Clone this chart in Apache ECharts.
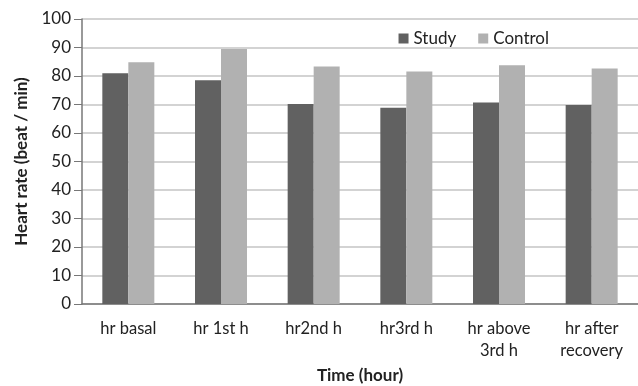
<!DOCTYPE html>
<html><head><meta charset="utf-8">
<script src="https://cdn.jsdelivr.net/npm/echarts@6/dist/echarts.min.js"></script>
<style>html,body{margin:0;padding:0;background:#fff}#c{width:638px;height:386px}</style>
</head><body><div id="c"></div>
<script>
const categories = ['hr basal', 'hr 1st h', 'hr2nd h', 'hr3rd h', 'hr above\n3rd h', 'hr after\nrecovery'];
const study = [81, 78.5, 70.2, 68.9, 70.7, 69.8];
const control = [84.8, 89.5, 83.3, 81.6, 83.8, 82.6];
const yTicks = [0, 10, 20, 30, 40, 50, 60, 70, 80, 90, 100];

const font = 'Lato, "Open Sans", sans-serif';
const chart = echarts.init(document.getElementById('c'));
chart.setOption({
  animation: false,
  textStyle: { fontFamily: font },
  grid: { left: 82, right: 0, top: 19, bottom: 82, containLabel: false, outerBoundsMode: 'none' },
  legend: {
    data: ['Study', 'Control'],
    right: 84, top: 25,
    itemWidth: 10, itemHeight: 10, itemGap: 22,
    icon: 'rect',
    textStyle: { fontFamily: font, fontSize: 17, color: '#222' }
  },
  xAxis: {
    type: 'category',
    data: categories,
    name: 'Time (hour)',
    nameLocation: 'middle',
    nameGap: 61,
    nameTextStyle: { fontFamily: font, fontSize: 17, fontWeight: 'bold', color: '#222' },
    axisLine: { lineStyle: { color: '#777', width: 1.5 } },
    axisTick: { show: false },
    axisLabel: { fontFamily: font, fontSize: 16.5, color: '#222', margin: 14, lineHeight: 22, interval: 0 }
  },
  yAxis: {
    type: 'value',
    min: yTicks[0], max: yTicks[yTicks.length - 1], interval: 10,
    name: 'Heart rate (beat / min)',
    nameLocation: 'middle',
    nameGap: 52,
    nameTextStyle: { fontFamily: font, fontSize: 17, fontWeight: 'bold', color: '#222' },
    axisLine: { show: true, lineStyle: { color: '#777', width: 1.5 } },
    axisTick: { show: true, length: 8, lineStyle: { color: '#777' } },
    axisLabel: { fontFamily: font, fontSize: 17, color: '#222', margin: 11 },
    splitLine: { lineStyle: { color: '#c4c4c4', width: 1.5 } }
  },
  series: [
    { name: 'Study', type: 'bar', data: study, barWidth: 26, barGap: '0%', itemStyle: { color: '#616161' } },
    { name: 'Control', type: 'bar', data: control, barWidth: 26, itemStyle: { color: '#b1b1b1' } }
  ]
});
</script></body></html>
